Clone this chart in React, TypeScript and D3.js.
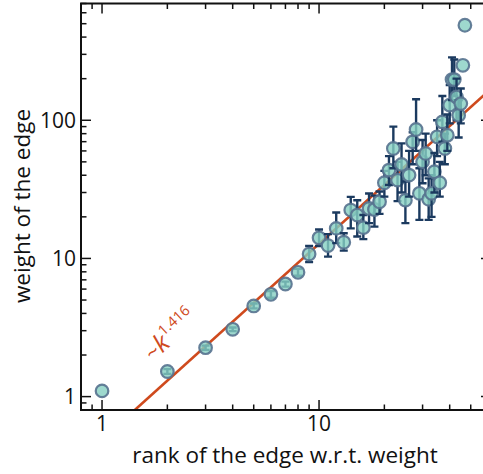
import React from "react";
import * as d3 from "d3";

const ranks = [1,2,3,4,5,6,7,8,9,10,11,12,13,14,15,16,17,18,19,20,21,22,23,24,25,26,27,28,29,30,31,32,33,34,35,36,37,38,39,40,41,42,43,44,45,46,47];
const weights = [1.1,1.52,2.26,3.07,4.53,5.5,6.53,7.94,10.76,14.1,12.4,16.5,13.1,22.4,20.6,16.7,23.0,22.6,25.7,35.3,43.6,62.5,36.9,47.9,26.4,40.1,69.8,85.8,29.6,50,57.5,26.8,29.6,42.4,75.9,35.3,97.3,62.5,78,128.6,197,197,147.6,108.8,132,250,487];
const errLow = [null,1.46,2.18,2.98,4.35,5.2,6.25,7.5,9.4,12.3,10.3,12.9,11.4,16.5,14.4,13.8,18.0,17.0,21.0,28.0,34.0,45.0,26.0,30.0,18.0,28.0,48.0,60.0,19.0,35.0,40.0,19.0,20.0,30.0,55.0,28.0,70.0,48.0,60.0,95.0,140.0,150.0,100.0,75.0,95.0,null,null];
const errHigh = [null,1.58,2.34,3.16,4.72,5.8,6.8,8.4,12.3,16.2,15.0,21.5,15.2,27.9,26.4,20.6,29.5,28.5,30.5,43.0,55.0,90.0,50.0,68.0,36.0,60.0,82.0,142.0,45.0,72.0,80.0,38.0,40.0,58.0,100.0,50.0,150.0,80.0,110.0,180.0,285.0,275.0,200.0,140.0,170.0,null,null];

const xTickLabels = ["1", "10"];
const yTickLabels = ["1", "10", "100"];
const fitExponent = 1.416;
const fitCoef = 0.489;
const xLabel = "rank of the edge w.r.t. weight";
const yLabel = "weight of the edge";

const W = 483, H = 474;
const L = 81, R = 491, T = 3.5, B = 410;

export default function App() {
  const x = d3.scaleLog().domain([0.8, 62]).range([L, R]);
  const y = d3.scaleLog().domain([0.8, 700]).range([B, T]);

  const xMinor = [0.8, 0.9, 2, 3, 4, 5, 6, 7, 8, 9, 20, 30, 40, 50, 60];
  const yMinor = [0.8, 0.9, 2, 3, 4, 5, 6, 7, 8, 9, 20, 30, 40, 50, 60, 70, 80, 90, 200, 300, 400, 500, 600, 700];
  const xMajor = xTickLabels.map(Number);
  const yMajor = yTickLabels.map(Number);

  const fit = (k: number) => fitCoef * Math.pow(k, fitExponent);
  const lineX0 = Math.pow(0.8 / fitCoef, 1 / fitExponent);
  const lineGen = d3.line<number>().x((d) => x(d)).y((d) => y(fit(d)));
  const linePts = [lineX0, 62];

  const font = "'Open Sans', 'Noto Sans', sans-serif";
  const ax = "#111";
  const majorLen = 10, minorLen = 5.5;
  const angle = (Math.atan2(y(fit(1)) - y(fit(10)), x(10) - x(1)) * 180) / Math.PI;

  return (
    <svg width={W} height={H} style={{ position: "absolute", left: 0, top: 0, background: "#fff" }}>
      <defs>
        <clipPath id="plotclip">
          <rect x={L} y={T} width={R - L} height={B - T} />
        </clipPath>
      </defs>
      <g clipPath="url(#plotclip)">
        <path d={lineGen(linePts) || ""} stroke="#cf4a1d" strokeWidth={2.6} fill="none" />
        {ranks.map((k, i) => {
          const lo = errLow[i], hi = errHigh[i];
          const cx = x(k);
          return (
            <g key={k}>
              {lo != null && hi != null && (
                <g stroke="#1b3a5f" strokeWidth={2.4}>
                  <line x1={cx} x2={cx} y1={y(lo)} y2={y(hi)} />
                  <line x1={cx - 4} x2={cx + 4} y1={y(lo)} y2={y(lo)} />
                  <line x1={cx - 4} x2={cx + 4} y1={y(hi)} y2={y(hi)} />
                </g>
              )}
              <circle cx={cx} cy={y(weights[i])} r={6.3} fill="#86cfc2" fillOpacity={0.8} stroke="#56728f" strokeOpacity={0.9} strokeWidth={2.2} />
            </g>
          );
        })}
      </g>
      <rect x={L} y={T} width={R - L} height={B - T} fill="none" stroke={ax} strokeWidth={2} />
      <g stroke={ax} strokeWidth={1.5}>
        {xMajor.map((d) => (
          <g key={"xM" + d}>
            <line x1={x(d)} x2={x(d)} y1={B} y2={B - majorLen} />
            <line x1={x(d)} x2={x(d)} y1={T} y2={T + majorLen} />
          </g>
        ))}
        {xMinor.map((d) => (
          <g key={"xm" + d}>
            <line x1={x(d)} x2={x(d)} y1={B} y2={B - minorLen} />
            <line x1={x(d)} x2={x(d)} y1={T} y2={T + minorLen} />
          </g>
        ))}
        {yMajor.map((d) => (
          <g key={"yM" + d}>
            <line x1={L} x2={L + majorLen} y1={y(d)} y2={y(d)} />
            <line x1={R} x2={R - majorLen} y1={y(d)} y2={y(d)} />
          </g>
        ))}
        {yMinor.map((d) => (
          <g key={"ym" + d}>
            <line x1={L} x2={L + minorLen} y1={y(d)} y2={y(d)} />
            <line x1={R} x2={R - minorLen} y1={y(d)} y2={y(d)} />
          </g>
        ))}
      </g>
      <g fontFamily={font} fontSize={21} fill="#111">
        {xTickLabels.map((t) => (
          <text key={"xl" + t} x={x(Number(t))} y={431} textAnchor="middle">{t}</text>
        ))}
        {yTickLabels.map((t) => (
          <text key={"yl" + t} x={76} y={y(Number(t)) + 7.5} textAnchor="end">{t}</text>
        ))}
      </g>
      <text x={285} y={463} fontFamily={font} fontSize={22.5} textAnchor="middle" fill="#111">{xLabel}</text>
      <text transform={`translate(30,206) rotate(-90)`} fontFamily={font} fontSize={22.5} textAnchor="middle" fill="#111">{yLabel}</text>
      <g transform={`translate(153,362) rotate(${-angle})`}>
        <text fontFamily={font} fill="#cf4a1d" fontSize={22}>
          <tspan>~</tspan>
          <tspan fontStyle="italic" fontSize={25}>k</tspan>
          <tspan fontSize={14.5} dy={-12}>{String(fitExponent)}</tspan>
        </text>
      </g>
    </svg>
  );
}
